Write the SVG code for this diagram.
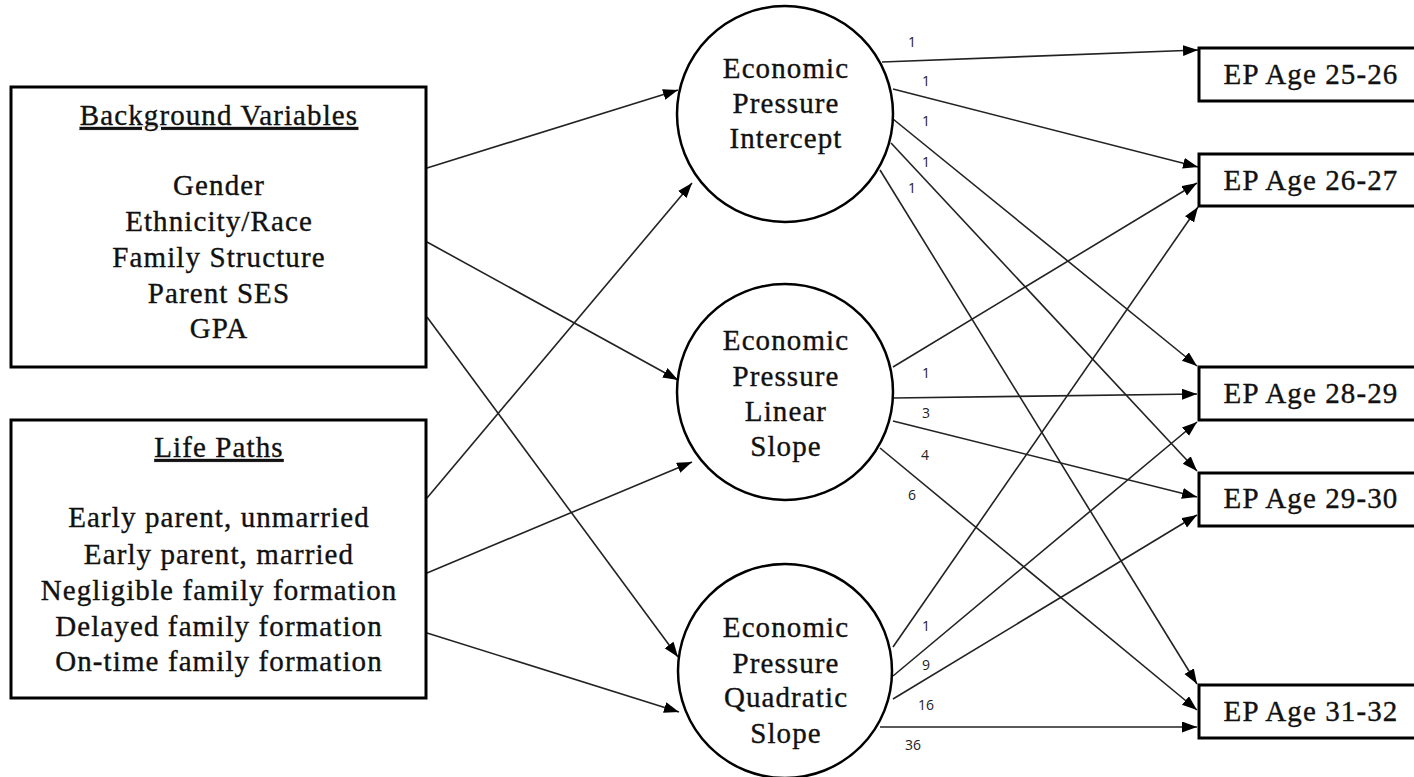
<svg xmlns="http://www.w3.org/2000/svg" width="1414" height="777" viewBox="0 0 1414 777">
<style>
.box{fill:#fff;stroke:#000;stroke-width:3}
.circ{fill:#fff;stroke:#000;stroke-width:2.5}
.t{font-family:"Liberation Serif","Times New Roman",serif;font-size:29px;letter-spacing:1.1px;fill:#111;stroke:#111;stroke-width:0.35;text-anchor:middle}
.u{text-decoration:underline}
.lab{font-family:"Open Sans","Liberation Sans",sans-serif;font-size:14px;fill:#222;text-anchor:middle}
.c line{stroke:#222;stroke-width:1.6;marker-end:url(#ah)}
</style>
<defs>
<marker id="ah" markerUnits="userSpaceOnUse" markerWidth="16" markerHeight="12" refX="15" refY="5.5" orient="auto">
<path d="M0,0 L15,5.5 L0,11 z" fill="#000"/>
</marker>
</defs>
<rect width="1414" height="777" fill="#fff"/>

<g id="connectors" class="c">
<line x1="427" y1="168" x2="678" y2="90"/>
<line x1="427" y1="242" x2="678" y2="380"/>
<line x1="427" y1="317" x2="678" y2="657"/>
<line x1="427" y1="498" x2="692" y2="183"/>
<line x1="427" y1="573" x2="692" y2="462"/>
<line x1="427" y1="633" x2="679" y2="712"/>

<line x1="882" y1="62" x2="1198" y2="50"/>
<line x1="893" y1="89" x2="1198" y2="167"/>
<line x1="893" y1="119" x2="1197" y2="366"/>
<line x1="891" y1="143" x2="1197" y2="471"/>
<line x1="880" y1="170" x2="1197" y2="684"/>

<line x1="893" y1="367" x2="1197" y2="183"/>
<line x1="893" y1="398" x2="1197" y2="394"/>
<line x1="893" y1="421" x2="1197" y2="497"/>
<line x1="880" y1="448" x2="1197" y2="710"/>

<line x1="893" y1="647" x2="1198" y2="207"/>
<line x1="893" y1="676" x2="1197" y2="422"/>
<line x1="893" y1="699" x2="1197" y2="515"/>
<line x1="880" y1="727" x2="1197" y2="727"/>
</g>

<g id="labels">
<text class="lab" x="912" y="47">1</text>
<text class="lab" x="926" y="86">1</text>
<text class="lab" x="926" y="126">1</text>
<text class="lab" x="926" y="167">1</text>
<text class="lab" x="912" y="193">1</text>
<text class="lab" x="926" y="378">1</text>
<text class="lab" x="926" y="418">3</text>
<text class="lab" x="925" y="460">4</text>
<text class="lab" x="912" y="500">6</text>
<text class="lab" x="926" y="631">1</text>
<text class="lab" x="926" y="670">9</text>
<text class="lab" x="926" y="710">16</text>
<text class="lab" x="913" y="750">36</text>
</g>

<g id="background">
<rect class="box" x="11" y="87" width="415" height="280"/>
<text class="t u" x="219" y="125">Background Variables</text>
<text class="t" x="219" y="195">Gender</text>
<text class="t" x="219" y="231">Ethnicity/Race</text>
<text class="t" x="219" y="267">Family Structure</text>
<text class="t" x="219" y="303">Parent SES</text>
<text class="t" x="219" y="338">GPA</text>
</g>

<g id="lifepaths">
<rect class="box" x="11" y="420" width="415" height="278"/>
<text class="t u" x="219" y="457">Life Paths</text>
<text class="t" x="219" y="527">Early parent, unmarried</text>
<text class="t" x="219" y="564">Early parent, married</text>
<text class="t" x="219" y="600">Negligible family formation</text>
<text class="t" x="219" y="636">Delayed family formation</text>
<text class="t" x="219" y="671">On-time family formation</text>
</g>

<g id="intercept">
<circle class="circ" cx="785" cy="114" r="108"/>
<text class="t" x="786" y="78">Economic</text>
<text class="t" x="786" y="113">Pressure</text>
<text class="t" x="786" y="148">Intercept</text>
</g>

<g id="linear">
<circle class="circ" cx="785" cy="392" r="108"/>
<text class="t" x="786" y="350">Economic</text>
<text class="t" x="786" y="386">Pressure</text>
<text class="t" x="786" y="421">Linear</text>
<text class="t" x="786" y="456">Slope</text>
</g>

<g id="quadratic">
<circle class="circ" cx="785" cy="671" r="107"/>
<text class="t" x="786" y="637">Economic</text>
<text class="t" x="786" y="673">Pressure</text>
<text class="t" x="786" y="707">Quadratic</text>
<text class="t" x="786" y="743">Slope</text>
</g>

<g id="ep2526"><rect class="box" x="1199" y="48" width="220" height="53"/><text class="t" x="1311" y="84">EP Age 25-26</text></g>
<g id="ep2627"><rect class="box" x="1199" y="154" width="220" height="52"/><text class="t" x="1311" y="190">EP Age 26-27</text></g>
<g id="ep2829"><rect class="box" x="1199" y="367" width="220" height="53"/><text class="t" x="1311" y="403">EP Age 28-29</text></g>
<g id="ep2930"><rect class="box" x="1199" y="473" width="220" height="53"/><text class="t" x="1311" y="508">EP Age 29-30</text></g>
<g id="ep3132"><rect class="box" x="1199" y="685" width="220" height="53"/><text class="t" x="1311" y="721">EP Age 31-32</text></g>
</svg>
